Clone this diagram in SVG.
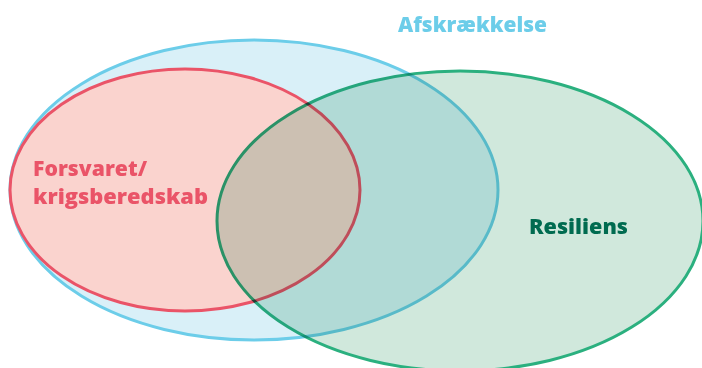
<svg xmlns="http://www.w3.org/2000/svg" width="702" height="368" viewBox="0 0 702 368">
<style>
.lbl{font-family:"Open Sans","Liberation Sans",sans-serif;font-weight:800;font-size:21px}
</style>
<rect width="702" height="368" fill="#ffffff"/>
<g id="afskraekkelse">
<ellipse cx="254" cy="190" rx="244" ry="150" fill="#d9f0f8" stroke="#6ccde9" stroke-width="3"/>
<text class="lbl" x="398" y="32" fill="#6ccde9" textLength="149" lengthAdjust="spacingAndGlyphs">Afskrækkelse</text>
</g>
<g id="forsvaret">
<ellipse cx="185" cy="190" rx="175" ry="121" fill="#fad3ce" stroke="#ea5468" stroke-width="3"/>
<text class="lbl" x="33" y="176" fill="#ea5468" textLength="114" lengthAdjust="spacingAndGlyphs">Forsvaret/</text>
<text class="lbl" x="33" y="204" fill="#ea5468" textLength="175" lengthAdjust="spacingAndGlyphs">krigsberedskab</text>
</g>
<g id="resiliens">
<ellipse cx="460" cy="221" rx="243" ry="150" fill="#d0e8dc" stroke="#2bb07f" stroke-width="3" style="mix-blend-mode:multiply"/>
<text class="lbl" x="529" y="234" fill="#006b50" textLength="99" lengthAdjust="spacingAndGlyphs">Resiliens</text>
</g>
<g id="connectors"></g>
</svg>
